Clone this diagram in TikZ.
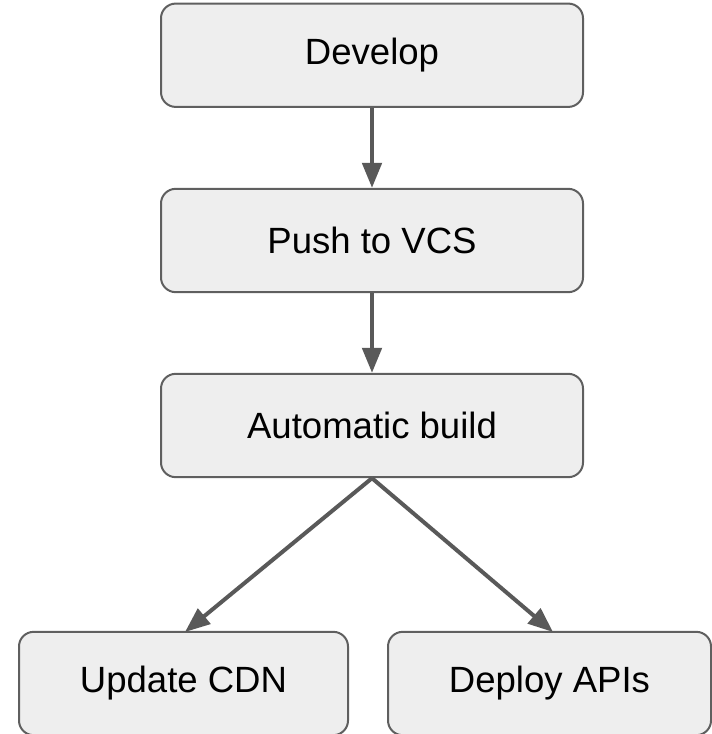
\documentclass[tikz,border=0pt]{standalone}
\usepackage{fontspec}
\setmainfont{Liberation Sans}
\usetikzlibrary{arrows.meta}
\definecolor{boxfill}{HTML}{EEEEEE}
\definecolor{boxline}{HTML}{5F5F5F}
\definecolor{arrowc}{HTML}{595959}
\begin{document}
\begin{tikzpicture}[x=0.75pt,y=-0.75pt,
  stepbox/.style={draw=boxline,fill=boxfill,line width=1.5pt,rounded corners=11pt,
    minimum height=77.5pt,inner sep=0pt,font=\fontsize{27.4pt}{32pt}\selectfont},
  flow/.style={draw=arrowc,line width=3pt,-{Triangle[length=18.75pt,width=14.5pt]}}]
\useasboundingbox (0,0) rectangle (712,734);
\begin{scope}
\clip (0,0) rectangle (712,734);
\node[stepbox,minimum width=316.5pt] (dev) at (372,55.25) {Develop};
\node[stepbox,minimum width=316.5pt] (push) at (372,240.5) {Push to VCS};
\node[stepbox,minimum width=316.5pt] (auto) at (372,425.5) {Automatic build};
\node[stepbox,minimum width=246.75pt] (cdn) at (183.5,683.5) {Update CDN};
\node[stepbox,minimum width=242.25pt] (api) at (549.5,683.5) {Deploy APIs};
\end{scope}
\coordinate (cdnin) at (185,632);
\coordinate (apiin) at (553,632);
\draw[flow] (dev.south) -- (push.north);
\draw[flow] (push.south) -- (auto.north);
\draw[flow] (auto.south) -- (cdnin);
\draw[flow] (auto.south) -- (apiin);
\end{tikzpicture}
\end{document}
